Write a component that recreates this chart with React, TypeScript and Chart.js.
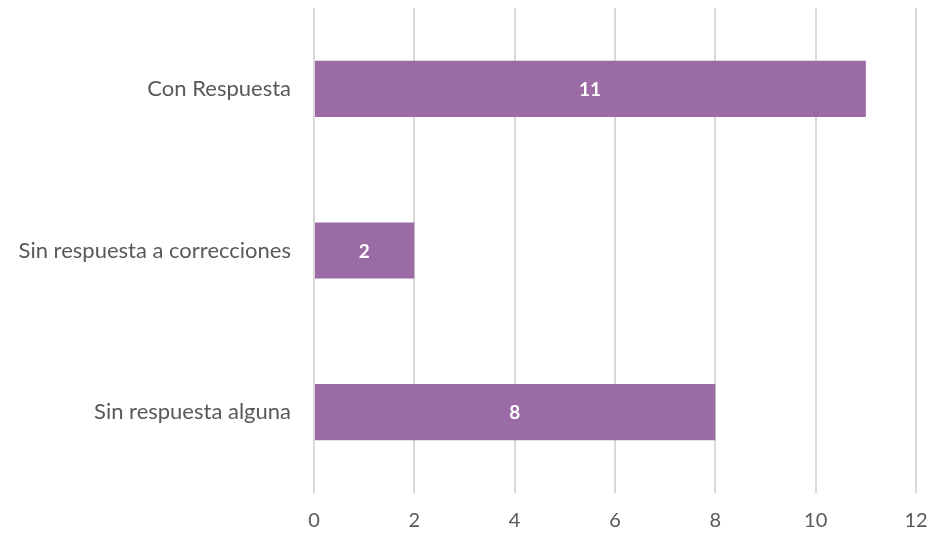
import React, { useEffect, useRef } from "react";
import { Chart, registerables } from "chart.js";

Chart.register(...registerables);

const categories = ["Con Respuesta", "Sin respuesta a correcciones", "Sin respuesta alguna"];
const values = [11, 2, 8];
const xTicks = [0, 2, 4, 6, 8, 10, 12];

const FONT = "Lato, 'Open Sans', sans-serif";

const labelPlugin = {
  id: "barLabels",
  afterDatasetsDraw(chart: any) {
    const ctx = chart.ctx;
    const meta = chart.getDatasetMeta(0);
    ctx.save();
    ctx.fillStyle = "#ffffff";
    ctx.font = `bold 19px ${FONT}`;
    ctx.textAlign = "center";
    ctx.textBaseline = "middle";
    meta.data.forEach((bar: any, i: number) => {
      const x0 = chart.scales.x.getPixelForValue(0);
      const cx = (x0 + bar.x) / 2;
      ctx.fillText(String(values[i]), cx, bar.y + 1);
    });
    ctx.restore();
  },
};

export default function App() {
  const ref = useRef<HTMLCanvasElement>(null);
  useEffect(() => {
    document.body.style.margin = "0";
    const chart = new Chart(ref.current!, {
      type: "bar",
      data: {
        labels: categories,
        datasets: [
          {
            data: values,
            backgroundColor: "#9A6BA5",
            categoryPercentage: 1,
            barPercentage: 0.347,
          },
        ],
      },
      options: {
        indexAxis: "y",
        animation: false,
        responsive: false,
        layout: { padding: { top: 8, right: 16, left: 0, bottom: 0 } },
        plugins: { legend: { display: false }, tooltip: { enabled: false } },
        scales: {
          x: {
            min: 0,
            max: 12,
            afterBuildTicks(scale: any) {
              scale.ticks = xTicks.map((v) => ({ value: v }));
            },
            afterFit(scale: any) {
              scale.height = 45;
              scale.paddingLeft = 0;
              scale.paddingRight = 0;
            },
            grid: { color: "#D9D9D9", lineWidth: 2, drawTicks: false },
            border: { display: false },
            ticks: { color: "#595959", font: { family: FONT, size: 20 }, padding: 16 },
          },
          y: {
            afterFit(scale: any) {
              scale.width = 314;
              scale.paddingTop = 0;
              scale.paddingBottom = 0;
            },
            grid: { display: false, drawTicks: false },
            border: { display: false },
            ticks: { color: "#595959", font: { family: FONT, size: 22 }, padding: 23 },
          },
        },
      },
      plugins: [labelPlugin],
    });
    return () => chart.destroy();
  }, []);
  return <canvas ref={ref} width={932} height={538} style={{ display: "block" }} />;
}
